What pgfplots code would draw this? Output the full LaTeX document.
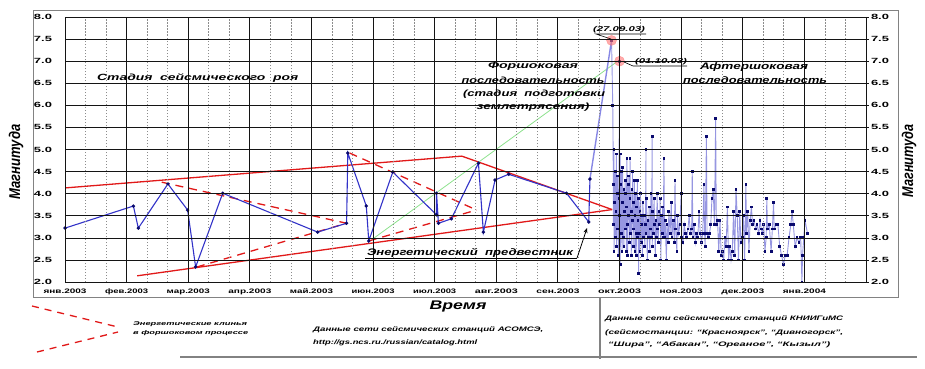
\documentclass[border=0pt]{standalone}
\usepackage{pgfplots}
\pgfplotsset{compat=1.18}
\usetikzlibrary{arrows.meta}
\usepackage{fontspec}
\setmainfont{Liberation Sans}
\usepackage{graphicx}
\newcommand{\fw}[2]{\resizebox{#1}{\height}{#2}}
\newcommand{\bi}{\bfseries\itshape}
\newcommand{\fs}[1]{\fontsize{#1}{#1}\selectfont}
\definecolor{fblue}{RGB}{50,50,200}
\definecolor{navyb}{RGB}{10,10,110}
\definecolor{lav}{RGB}{150,150,225}
\definecolor{rred}{RGB}{225,25,25}
\definecolor{lgreen}{RGB}{140,225,140}
\definecolor{framec}{RGB}{130,130,130}
\definecolor{gridk}{RGB}{20,20,20}
\definecolor{gridd}{RGB}{140,140,140}

\pgfplotstableread{
x y
8.87 7.47
8.89 6.0
8.90 4.2
8.90 3.3
8.91 5.0
8.91 2.7
8.92 3.8
8.93 4.5
8.93 3.0
8.94 3.6
8.95 4.9
8.95 2.8
8.96 4.0
8.97 3.2
8.97 4.4
8.98 2.6
8.99 3.9
9.00 7.0
9.00 3.5
9.01 4.9
9.01 2.4
9.02 4.2
9.03 3.1
9.03 4.5
9.04 2.7
9.05 3.8
9.05 4.6
9.06 3.0
9.07 4.1
9.07 2.8
9.08 3.6
9.09 4.3
9.09 3.2
9.10 4.0
9.11 2.7
9.11 3.7
9.12 4.8
9.13 3.3
9.13 2.6
9.14 4.2
9.15 3.5
9.15 4.4
9.16 2.9
9.17 3.9
9.17 4.8
9.18 3.1
9.19 3.6
9.19 2.6
9.20 4.1
9.21 3.4
9.21 4.5
9.22 2.8
9.23 3.8
9.23 3.2
9.24 4.3
9.25 2.7
9.25 3.5
9.26 4.0
9.27 3.1
9.27 2.6
9.28 3.7
9.29 4.3
9.29 3.0
9.30 3.4
9.31 2.2
9.31 3.9
9.32 3.1
9.33 2.7
9.33 3.6
9.34 4.0
9.35 2.9
9.36 3.5
9.36 3.3
9.37 2.6
9.38 3.8
9.39 3.0
9.40 3.5
9.41 2.8
9.42 3.3
9.43 5.0
9.43 3.1
9.44 3.9
9.45 2.5
9.46 3.4
9.47 3.0
9.48 3.7
9.49 2.7
9.50 3.2
9.51 4.0
9.52 3.0
9.53 5.3
9.53 2.8
9.54 3.6
9.55 3.1
9.56 3.9
9.57 3.3
9.58 2.6
9.59 3.4
9.60 3.0
9.61 4.0
9.62 3.2
9.63 2.9
9.64 3.6
9.65 3.3
9.66 3.9
9.67 2.5
9.68 3.5
9.69 3.1
9.70 3.7
9.71 3.0
9.72 4.8
9.73 3.0
9.74 3.4
9.76 2.5
9.77 3.3
9.79 2.9
9.80 3.6
9.82 3.1
9.84 3.8
9.85 3.0
9.87 3.4
9.89 2.9
9.90 4.3
9.91 3.2
9.93 2.7
9.94 3.5
9.96 3.1
9.98 3.3
10.00 4.0
10.01 3.0
10.03 2.9
10.05 3.3
10.07 3.1
10.09 3.0
10.11 3.2
10.13 3.5
10.15 3.1
10.17 3.2
10.18 4.5
10.19 3.0
10.21 3.3
10.23 2.9
10.25 3.1
10.27 3.0
10.29 3.6
10.31 3.1
10.33 2.9
10.35 3.1
10.37 4.2
10.38 3.1
10.39 2.8
10.41 5.3
10.42 3.1
10.44 3.0
10.46 3.1
10.48 3.3
10.50 3.9
10.52 4.1
10.54 3.3
10.56 5.7
10.57 3.3
10.59 3.4
10.61 2.7
10.63 3.4
10.65 2.6
10.67 2.7
10.69 2.5
10.71 3.0
10.73 2.8
10.75 3.7
10.77 2.5
10.79 2.8
10.81 2.5
10.83 2.7
10.85 3.6
10.87 2.6
10.89 4.1
10.91 3.5
10.93 2.5
10.95 3.6
10.97 2.9
10.99 3.0
11.01 3.5
11.03 2.5
11.05 4.2
11.06 3.1
11.08 3.6
11.10 2.7
11.12 3.4
11.14 3.7
11.16 3.3
11.18 3.4
11.21 3.2
11.23 3.3
11.26 3.1
11.28 3.4
11.30 3.2
11.32 3.1
11.34 3.3
11.36 2.7
11.38 3.0
11.39 3.9
11.40 3.2
11.43 3.3
11.46 2.7
11.48 3.2
11.50 3.8
11.51 3.2
11.54 3.3
11.57 3.3
11.60 2.8
11.63 2.6
11.66 2.4
11.69 2.6
11.72 2.6
11.75 3.0
11.78 3.3
11.80 3.6
11.82 3.3
11.85 2.8
11.88 3.0
11.91 2.9
11.94 3.0
11.96 2.0
11.97 2.6
11.99 3.0
12.01 3.4
12.05 3.1
}\aftershock

\pgfplotstableread{
x y
0 3.22
1.11 3.72
1.19 3.22
1.67 4.22
1.99 3.63
2.12 2.34
2.56 4.01
4.10 3.13
4.57 3.33
4.59 4.92
4.89 3.72
4.93 2.93
5.32 4.49
6.03 3.52
6.03 4.01
6.06 3.33
6.27 3.43
6.71 4.69
6.79 3.13
6.98 4.31
7.20 4.44
8.14 4.01
8.50 3.36
8.52 4.33
}\foreshock

\begin{document}
\begin{tikzpicture}
\useasboundingbox (0pt,0pt) rectangle (925pt,368pt);
\draw[framec, line width=1pt] (33pt,71pt) rectangle (898pt,358pt);

\begin{axis}[at={(65pt,86pt)}, anchor=south west, scale only axis,
  width=801pt, height=265pt,
  xmin=0, xmax=13, ymin=2, ymax=8,
  xtick={0,1,2,3,4,5,6,7,8,9,10,11,12,13},
  ytick={2,2.5,3,3.5,4,4.5,5,5.5,6,6.5,7,7.5,8},
  xticklabels={\fw{43pt}{янв.2003},\fw{43pt}{фев.2003},\fw{43pt}{мар.2003},\fw{43pt}{апр.2003},\fw{43pt}{май.2003},\fw{43pt}{июн.2003},\fw{43pt}{июл.2003},\fw{43pt}{авг.2003},\fw{43pt}{сен.2003},\fw{43pt}{окт.2003},\fw{43pt}{ноя.2003},\fw{43pt}{дек.2003},\fw{43pt}{янв.2004},{}},
  yticklabels={\fw{18pt}{2.0},\fw{18pt}{2.5},\fw{18pt}{3.0},\fw{18pt}{3.5},\fw{18pt}{4.0},\fw{18pt}{4.5},\fw{18pt}{5.0},\fw{18pt}{5.5},\fw{18pt}{6.0},\fw{18pt}{6.5},\fw{18pt}{7.0},\fw{18pt}{7.5},\fw{18pt}{8.0}},
  tick style={draw=none},
  axis line style={draw=none},
  axis background/.style={fill=none, draw=none},
  xticklabel style={font=\bfseries\fs{6.5}, yshift=-3pt},
  yticklabel style={font=\bfseries\fs{7.5}, xshift=-9.5pt},
]
% energy wedges (dashed)
\addplot[rred, line width=1.3pt, dash pattern=on 8pt off 6pt] coordinates {(1.57,4.26) (4.57,3.33)};
\addplot[rred, line width=1.3pt, dash pattern=on 8pt off 6pt] coordinates {(2.14,2.34) (4.57,3.33)};
\addplot[rred, line width=1.3pt, dash pattern=on 8pt off 6pt] coordinates {(4.62,4.92) (6.68,3.63)};
\addplot[rred, line width=1.3pt, dash pattern=on 8pt off 6pt] coordinates {(4.93,2.93) (6.68,3.63)};
% solid red envelope
\addplot[rred, line width=1.3pt] coordinates {(0,4.13) (6.44,4.85) (8.88,3.64)};
\addplot[rred, line width=1.3pt] coordinates {(1.17,2.14) (8.88,3.64)};
% green line
\addplot[lgreen, line width=0.8pt] coordinates {(4.99,2.97) (8.97,7.0)};
% aftershocks
\addplot[lav, line width=0.9pt, mark=square*, mark size=0.9pt, mark options={navyb, fill=navyb}] table[x=x,y=y]{\aftershock};
% rise to main shock
\addplot[lav!90!blue, line width=1.4pt] coordinates {(8.52,4.33) (8.87,7.47)};
% foreshock series
\addplot[fblue, line width=1.1pt, mark=*, mark size=1.1pt, mark options={navyb, fill=navyb}] table[x=x,y=y]{\foreshock};
% main shock markers
\addplot[only marks, mark=*, mark size=5pt, mark options={draw=red!55, fill=red!55, opacity=0.6}] coordinates {(8.87,7.47) (9.0,7.0)};
\end{axis}

\begin{axis}[at={(65pt,86pt)}, anchor=south west, scale only axis,
  width=801pt, height=265pt,
  xmin=0, xmax=13, ymin=2, ymax=8,
  axis x line=none, axis y line*=right,
  ytick={2,2.5,3,3.5,4,4.5,5,5.5,6,6.5,7,7.5,8},
  yticklabels={\fw{18pt}{2.0},\fw{18pt}{2.5},\fw{18pt}{3.0},\fw{18pt}{3.5},\fw{18pt}{4.0},\fw{18pt}{4.5},\fw{18pt}{5.0},\fw{18pt}{5.5},\fw{18pt}{6.0},\fw{18pt}{6.5},\fw{18pt}{7.0},\fw{18pt}{7.5},\fw{18pt}{8.0}},
  yticklabel style={font=\bfseries\fs{7.5}, xshift=1.5pt},
  tick style={draw=none},
  axis line style={draw=none},
  axis background/.style={fill=none, draw=none},
]
\addplot[draw=none] coordinates {(0,2)};
\end{axis}

% grid drawn after the axes
\draw[gridd, line width=0.8pt, dash pattern=on 1.5pt off 1.5pt]
 (85.54pt,86pt) -- (85.54pt,351pt) (106.08pt,86pt) -- (106.08pt,351pt)
 (147.15pt,86pt) -- (147.15pt,351pt) (167.69pt,86pt) -- (167.69pt,351pt)
 (208.77pt,86pt) -- (208.77pt,351pt) (229.31pt,86pt) -- (229.31pt,351pt)
 (270.38pt,86pt) -- (270.38pt,351pt) (290.92pt,86pt) -- (290.92pt,351pt)
 (332.00pt,86pt) -- (332.00pt,351pt) (352.54pt,86pt) -- (352.54pt,351pt)
 (393.62pt,86pt) -- (393.62pt,351pt) (414.15pt,86pt) -- (414.15pt,351pt)
 (455.23pt,86pt) -- (455.23pt,351pt) (475.77pt,86pt) -- (475.77pt,351pt)
 (516.85pt,86pt) -- (516.85pt,351pt) (537.38pt,86pt) -- (537.38pt,351pt)
 (578.46pt,86pt) -- (578.46pt,351pt) (599.00pt,86pt) -- (599.00pt,351pt)
 (640.08pt,86pt) -- (640.08pt,351pt) (660.62pt,86pt) -- (660.62pt,351pt)
 (701.69pt,86pt) -- (701.69pt,351pt) (722.23pt,86pt) -- (722.23pt,351pt)
 (763.31pt,86pt) -- (763.31pt,351pt) (783.85pt,86pt) -- (783.85pt,351pt)
 (824.92pt,86pt) -- (824.92pt,351pt) (845.46pt,86pt) -- (845.46pt,351pt);
\draw[gridk, line width=0.6pt]
 (65pt,108.08pt) -- (866pt,108.08pt) (65pt,130.17pt) -- (866pt,130.17pt)
 (65pt,152.25pt) -- (866pt,152.25pt) (65pt,174.33pt) -- (866pt,174.33pt)
 (65pt,196.42pt) -- (866pt,196.42pt) (65pt,218.50pt) -- (866pt,218.50pt)
 (65pt,240.58pt) -- (866pt,240.58pt) (65pt,262.67pt) -- (866pt,262.67pt)
 (65pt,284.75pt) -- (866pt,284.75pt) (65pt,306.83pt) -- (866pt,306.83pt)
 (65pt,328.92pt) -- (866pt,328.92pt);
\draw[gridk, line width=1.1pt]
 (126.62pt,86pt) -- (126.62pt,351pt) (188.23pt,86pt) -- (188.23pt,351pt)
 (249.85pt,86pt) -- (249.85pt,351pt) (311.46pt,86pt) -- (311.46pt,351pt)
 (373.08pt,86pt) -- (373.08pt,351pt) (434.69pt,86pt) -- (434.69pt,351pt)
 (496.31pt,86pt) -- (496.31pt,351pt) (557.92pt,86pt) -- (557.92pt,351pt)
 (619.54pt,86pt) -- (619.54pt,351pt) (681.15pt,86pt) -- (681.15pt,351pt)
 (742.77pt,86pt) -- (742.77pt,351pt) (804.38pt,86pt) -- (804.38pt,351pt);
\draw[gridk, line width=0.9pt] (65pt,86pt) rectangle (866pt,351pt);
\draw[gridk, line width=0.6pt]
 (866pt,86pt) -- (869pt,86pt) (866pt,108.08pt) -- (869pt,108.08pt)
 (866pt,130.17pt) -- (869pt,130.17pt) (866pt,152.25pt) -- (869pt,152.25pt)
 (866pt,174.33pt) -- (869pt,174.33pt) (866pt,196.42pt) -- (869pt,196.42pt)
 (866pt,218.50pt) -- (869pt,218.50pt) (866pt,240.58pt) -- (869pt,240.58pt)
 (866pt,262.67pt) -- (869pt,262.67pt) (866pt,284.75pt) -- (869pt,284.75pt)
 (866pt,306.83pt) -- (869pt,306.83pt) (866pt,328.92pt) -- (869pt,328.92pt)
 (866pt,351pt) -- (869pt,351pt);

% axis titles
\node[rotate=90] at (16pt,206pt) {\bi\fs{13}\resizebox{75pt}{1.2\height}{Магнитуда}};
\node[rotate=90] at (909pt,207pt) {\bi\fs{13}\resizebox{73pt}{1.2\height}{Магнитуда}};
\node[anchor=base] at (458pt,59pt) {\bi\fs{12.5}\fw{57pt}{Время}};

% annotations inside plot
\node[anchor=base west, inner sep=0] at (97pt,288pt) {\bi\fs{9}\fw{201pt}{Стадия\ \ сейсмического\ \ роя}};
\node[anchor=base, inner sep=0] at (533pt,300pt) {\bi\fs{9}\fw{90pt}{Форшоковая}};
\node[anchor=base, inner sep=0] at (533pt,285pt) {\bi\fs{9}\fw{143pt}{последовательность}};
\node[anchor=base, inner sep=0] at (534pt,272pt) {\bi\fs{9}\fw{142pt}{(стадия\ \ подготовки}};
\node[anchor=base, inner sep=0] at (533pt,259pt) {\bi\fs{9}\fw{113pt}{землетрясения)}};
\node[anchor=base, inner sep=0] at (754pt,299pt) {\bi\fs{9.5}\fw{108pt}{Афтершоковая}};
\node[anchor=base, inner sep=0] at (755pt,285pt) {\bi\fs{9.5}\fw{144pt}{последовательность}};

\node[anchor=base, inner sep=0] at (619pt,336.5pt) {\bi\fs{7}\fw{52pt}{(27.09.03)}};
\draw[black, line width=0.6pt] (611pt,329pt) -- (596pt,334pt) -- (646pt,334pt);
\node[anchor=base, inner sep=0] at (661pt,305pt) {\bi\fs{7}\fw{52pt}{(01.10.03)}};
\draw[black, line width=0.6pt] (624pt,306pt) -- (633pt,302pt) -- (687pt,302pt);

\node[anchor=base, inner sep=0] at (470pt,112.5pt) {\bi\fs{9.5}\fw{206pt}{Энергетический\ \ предвестник}};
\draw[black, line width=0.8pt] (365pt,110pt) -- (577pt,110pt);
\draw[black, line width=0.8pt, -{Stealth[length=5pt,width=4pt]}] (577pt,110pt) -- (587pt,140pt);

% lower notes
\draw[rred, line width=1.3pt, dash pattern=on 7pt off 6pt] (32pt,62pt) -- (118pt,41pt);
\draw[rred, line width=1.3pt, dash pattern=on 7pt off 6pt] (37pt,16pt) -- (118pt,36pt);
\node[anchor=base west, inner sep=0] at (133pt,43pt) {\bi\fs{5.5}\fw{114pt}{Энергетические клинья}};
\node[anchor=base west, inner sep=0] at (133pt,34pt) {\bi\fs{5.5}\fw{115pt}{в форшоковом процессе}};

\node[anchor=base west, inner sep=0] at (313pt,37pt) {\bi\fs{6.5}\fw{230pt}{Данные сети сейсмических станций АСОМСЭ,}};
\node[anchor=base west, inner sep=0] at (313pt,24pt) {\bi\fs{6.5}\fw{164pt}{http://gs.ncs.ru./russian/catalog.html}};

\node[anchor=base west, inner sep=0] at (605pt,48pt) {\bi\fs{6.5}\fw{238pt}{Данные сети сейсмических станций КНИИГиМС}};
\node[anchor=base west, inner sep=0] at (605pt,34pt) {\bi\fs{6.5}\fw{238pt}{(сейсмостанции: “Красноярск”, “Дивногорск”,}};
\node[anchor=base west, inner sep=0] at (608pt,22pt) {\bi\fs{6.5}\fw{222pt}{“Шира”, “Абакан”, “Ореаное”, “Кызыл”)}};

\draw[framec, line width=1.2pt] (600pt,71pt) -- (600pt,9pt);
\draw[framec, line width=1.2pt] (180pt,11pt) -- (917pt,11pt);
\end{tikzpicture}
\end{document}
